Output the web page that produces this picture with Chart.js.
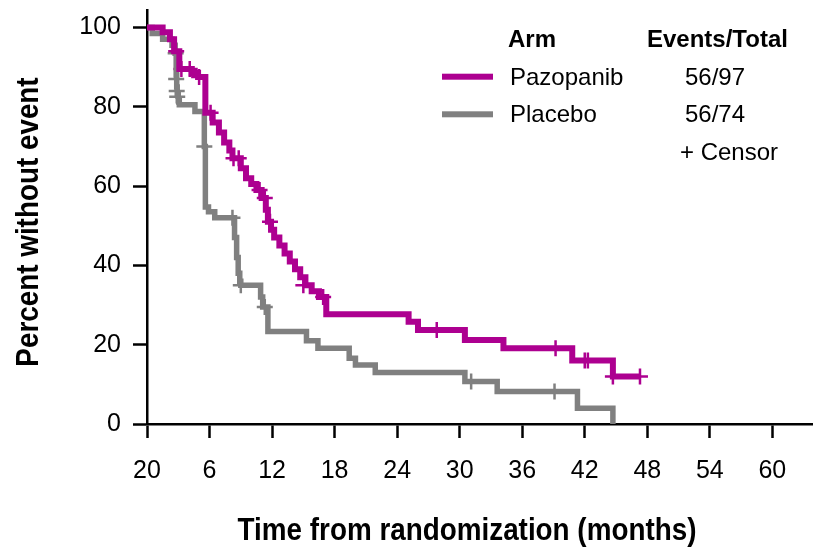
<!DOCTYPE html>
<html>
<head>
<meta charset="utf-8">
<script src="https://cdn.jsdelivr.net/npm/chart.js@4.4.1/dist/chart.umd.min.js"></script>
<style>
  html, body { margin: 0; padding: 0; background: #ffffff; }
  #wrap { width: 813px; height: 550px; position: relative; }
</style>
</head>
<body>
<div id="wrap"><canvas id="c" width="813" height="550"></canvas></div>
<script>
// ---- data ----
const pazTime = [0, 1.5, 2.2, 2.6, 3.1, 4.3, 4.9, 5.6, 6.3, 6.9, 7.4, 7.9, 8.2, 9.0, 9.5, 10.0, 10.5, 11.0, 11.4, 11.6, 11.9, 12.2, 12.7, 13.2, 13.7, 14.2, 14.7, 15.2, 15.8, 16.5, 17.2, 25.1, 26.0, 30.5, 34.2, 40.8, 44.7, 47.3];
const pazSurv = [100, 98.8, 97, 94, 89.5, 88.5, 87.5, 78.5, 76, 73.5, 71, 69, 67, 64.5, 62, 60.5, 59, 57, 54, 51, 49, 47, 45, 43, 41, 39, 37, 35, 33.5, 32, 27.7, 25.8, 23.7, 21.2, 19.1, 16, 12, 12];
const pazCensorTime = [2.8, 3.3, 4.1, 5.0, 6.1, 8.3, 8.8, 10.8, 11.3, 11.8, 15.0, 16.9, 27.8, 39.2, 42.0, 42.3, 44.7, 47.3];
const pazCensorSurv = [94, 89.5, 89.5, 87.5, 78.5, 67, 67, 59, 57, 51, 35, 32, 23.7, 19.1, 16, 16, 12, 12];

const placTime = [0, 0.5, 1.5, 2.4, 2.7, 2.8, 2.85, 2.9, 3.0, 3.1, 4.6, 5.5, 5.6, 5.9, 6.5, 8.4, 8.6, 8.75, 8.9, 9.0, 10.9, 11.1, 11.6, 15.3, 16.4, 19.4, 20.0, 21.9, 30.5, 33.6, 41.3, 44.7];
const placSurv = [100, 98.5, 97, 95.5, 93.5, 88, 85, 83, 81.5, 80.5, 78.8, 70, 54.7, 53.5, 52, 47, 42, 38, 36, 35, 32, 29.5, 23.3, 21, 19.1, 16.6, 14.9, 13, 10.7, 8.2, 4, 0];
const placCensorTime = [2.75, 2.8, 2.85, 2.9, 5.5, 8.2, 9.0, 11.3, 31.1, 39.1];
const placCensorSurv = [93.5, 87, 84, 82.5, 70, 52, 35, 29.5, 10.7, 8.2];

const xTickValues = [0, 6, 12, 18, 24, 30, 36, 42, 48, 54, 60];
const xTickLabels = ['20', '6', '12', '18', '24', '30', '36', '42', '48', '54', '60'];
const yTickValues = [0, 20, 40, 60, 80, 100];
const yTickLabels = ['0', '20', '40', '60', '80', '100'];

const seriesNames = ['Pazopanib', 'Placebo'];
const seriesCounts = ['56/97', '56/74'];
const legendHeader = ['Arm', 'Events/Total'];
const censorLabel = '+ Censor';
const xTitle = 'Time from randomization (months)';
const yTitle = 'Percent without event';

// ---- styles ----
const MAGENTA = '#AD0090';
const GRAY = '#808080';
const FONT = "'Liberation Sans', Arial, sans-serif";

function pts(xs, ys) { return xs.map((x, i) => ({ x: x, y: ys[i] })); }

const overlay = {
  id: 'overlay',
  afterDraw(chart) {
    const ctx = chart.ctx;
    ctx.save();
    ctx.fillStyle = '#000';
    ctx.textBaseline = 'alphabetic';
    // axis titles (condensed)
    ctx.font = 'bold 32px ' + FONT;
    ctx.textAlign = 'center';
    ctx.save();
    ctx.translate(467, 540);
    ctx.scale(0.87, 1);
    ctx.fillText(xTitle, 0, 0);
    ctx.restore();
    ctx.save();
    ctx.translate(38, 222);
    ctx.rotate(-Math.PI / 2);
    ctx.scale(0.87, 1);
    ctx.fillText(yTitle, 0, 0);
    ctx.restore();
    // legend
    ctx.textAlign = 'left';
    ctx.font = 'bold 24px ' + FONT;
    ctx.fillText(legendHeader[0], 508, 47);
    ctx.fillText(legendHeader[1], 647, 47);
    ctx.font = '24px ' + FONT;
    const rows = [85, 122];
    const cols = [MAGENTA, GRAY];
    const sw = [76.7, 114.3];
    for (let i = 0; i < 2; i++) {
      ctx.fillStyle = cols[i];
      ctx.fillRect(442, sw[i] - 3, 51, 6);
      ctx.fillStyle = '#000';
      ctx.fillText(seriesNames[i], 510, rows[i]);
      ctx.fillText(seriesCounts[i], 685, rows[i]);
    }
    ctx.fillText(censorLabel, 680, 160);
    ctx.restore();
  }
};

function noPad(s) { s.paddingTop = 0; s.paddingBottom = 0; s.paddingLeft = 0; s.paddingRight = 0; }

new Chart(document.getElementById('c'), {
  type: 'scatter',
  data: {
    datasets: [
      { label: seriesNames[0], data: pts(pazTime, pazSurv), showLine: true, stepped: 'before',
        borderColor: MAGENTA, backgroundColor: MAGENTA, borderWidth: 6, pointRadius: 0, fill: false },
      { label: seriesNames[1], data: pts(placTime, placSurv), showLine: true, stepped: 'before',
        borderColor: GRAY, backgroundColor: GRAY, borderWidth: 5.5, pointRadius: 0, fill: false },
      { label: 'pc', data: pts(pazCensorTime, pazCensorSurv), showLine: false, pointStyle: 'cross',
        pointRadius: 8, pointBorderWidth: 2.5, borderColor: MAGENTA, backgroundColor: MAGENTA },
      { label: 'gc', data: pts(placCensorTime, placCensorSurv), showLine: false, pointStyle: 'cross',
        pointRadius: 8, pointBorderWidth: 2.5, borderColor: GRAY, backgroundColor: GRAY }
    ]
  },
  options: {
    responsive: false,
    animation: false,
    devicePixelRatio: 1,
    layout: { autoPadding: false, padding: { top: 10, right: 0, left: 0, bottom: 0 } },
    plugins: { legend: { display: false }, tooltip: { enabled: false } },
    scales: {
      x: {
        type: 'linear', min: 0, max: 63.9,
        afterFit(s) { s.height = 126; noPad(s); },
        afterBuildTicks(s) { s.ticks = xTickValues.map(v => ({ value: v })); },
        grid: { drawOnChartArea: false, drawTicks: true, tickLength: 14, tickWidth: 2.5, tickColor: '#000' },
        border: { display: true, color: '#000', width: 2.5 },
        ticks: { color: '#000', font: { family: FONT, size: 25 }, padding: 18, maxRotation: 0,
          callback: (v, i) => xTickLabels[i] }
      },
      y: {
        type: 'linear', min: 0, max: 104.4,
        afterFit(s) { s.width = 147; noPad(s); },
        afterBuildTicks(s) { s.ticks = yTickValues.map(v => ({ value: v })); },
        grid: { drawOnChartArea: false, drawTicks: true, tickLength: 14, tickWidth: 2.5, tickColor: '#000' },
        border: { display: true, color: '#000', width: 2.5 },
        ticks: { color: '#000', font: { family: FONT, size: 25 }, padding: 12,
          callback: (v, i) => yTickLabels[i] }
      }
    }
  },
  plugins: [overlay]
});
</script>
</body>
</html>
